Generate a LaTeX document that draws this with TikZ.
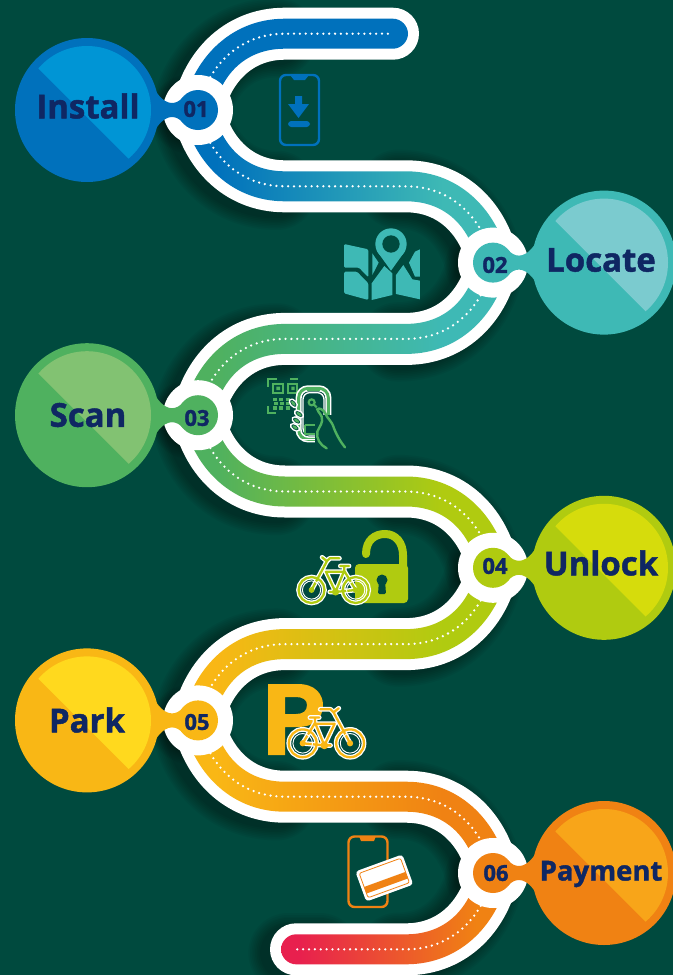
\documentclass[tikz,border=0pt]{standalone}
\usepackage{fontspec}
\newfontfamily\lab{Open Sans}[BoldFeatures={FakeBold=1.4}]
\definecolor{bg}{HTML}{004A3E}
\definecolor{ink}{HTML}{0F2763}
\definecolor{aD}{HTML}{0071BC}\definecolor{aL}{HTML}{0095D5}
\definecolor{bD}{HTML}{3EB9B5}\definecolor{bL}{HTML}{7BCBCF}
\definecolor{cD}{HTML}{4FB15F}\definecolor{cL}{HTML}{82C272}
\definecolor{dD}{HTML}{B0CB10}\definecolor{dL}{HTML}{D6DC0C}
\definecolor{eD}{HTML}{F9B715}\definecolor{eL}{HTML}{FFD91E}
\definecolor{fD}{HTML}{F08213}\definecolor{fL}{HTML}{F8A519}
\definecolor{redend}{HTML}{E8204E}
\newcommand\mkshade[3]{\pgfdeclarehorizontalshading{#1}{100bp}{color(0bp)=(#2); color(30bp)=(#2); color(65bp)=(#3); color(100bp)=(#3)}}
\mkshade{shA}{aD}{bD}
\mkshade{shB}{cD}{bD}
\mkshade{shC}{cD}{dD}
\mkshade{shD}{eD}{dD}
\mkshade{shE}{eD}{fD}
\pgfdeclarehorizontalshading{shF}{100bp}{color(0bp)=(redend); color(29bp)=(redend); color(68bp)=(fD); color(100bp)=(fD)}
\newcommand\segcenter{(0,0) .. controls (8,40) and (38,76.3) .. (87,76.3) -- (208,76.3) .. controls (257,76.3) and (287,112.6) .. (295,152.6)}
\newcommand\segband{(-15,3) .. controls (-6,48) and (30,91.3) .. (87,91.3) -- (208,91.3) .. controls (249,91.3) and (273,118.6) .. (280,155.6) -- (310,149.6) .. controls (301,104.6) and (265,61.3) .. (208,61.3) -- (87,61.3) .. controls (46,61.3) and (22,34) .. (15,-3) -- cycle}
\newcommand\bendA{(0,0) .. controls (8,40) and (38,76.3) .. (87,76.3)}
\newcommand\bendB{(0,0) .. controls (8,-40) and (38,-76.3) .. (87,-76.3)}
\newcommand\neckshape{(-41,-17) .. controls (-35,-9) and (-30,-7) .. (-26,-7) .. controls (-22,-7) and (-18,-9) .. (-15,-13) -- (-15,13) .. controls (-18,9) and (-22,7) .. (-26,7) .. controls (-30,7) and (-35,9) .. (-41,17) -- cycle}
\newcommand\bikeparts{
  (0,0) circle (13.5) (46,0) circle (13.5)
  (0,0) -- (12,-20) -- (21,2) -- (0,0)
  (7,-25) -- (16,-25) (12,-25) -- (12,-20)
  (12,-19) -- (31,-19) -- (21,2) -- (27,2)
  (46,0) -- (30,-30) -- (27,-33) -- (17,-33)
  (30,-30) -- (35,-34)}
\newcommand\bikeicon[5]{\begin{scope}[shift={(#1,#2)},xscale=#3,scale=#4]
  \draw[white,line width=3.6pt,line join=round,line cap=round] \bikeparts;
  \draw[#5,line width=1.7pt,line join=round,line cap=round] \bikeparts;
  \draw[white,line width=.7pt] (0,0) circle (9.5) (46,0) circle (9.5);
  \fill[#5] (0,0) circle (3) (46,0) circle (3) (21,2) circle (3.8);
\end{scope}}
\newcommand\stepcircle[7]{% name,x,y,disc x,dir,dark,light
  \node[bigdisc,fill=#6] (#1) at (#2,#3) {};
  \begin{scope}
    \clip (#2,#3) circle (64);
    \fill[#7] (#2,#3) ++(-100,-93) -- ++(200,200) -- ++(0,-207) -- ++(-200,0) -- cycle;
  \end{scope}
  \begin{scope}[shift={(#4,#3)},xscale=#5]
    \fill[#6] \neckshape;
  \end{scope}
  \node[smalldisc,fill=#6] (#1num) at (#4,#3) {};
}
\tikzset{
  bigdisc/.style={circle,minimum size=108pt,inner sep=0pt},
  smalldisc/.style={circle,minimum size=30pt,inner sep=0pt},
  ringdisc/.style={circle,fill=white,minimum size=52.5pt,inner sep=0pt},
  whiteband/.style={draw=white,line width=39pt,line cap=round},
  dotline/.style={draw=white,line width=1.9pt,line cap=round,dash pattern=on 0pt off 4.4pt},
  bigtext/.style={text=ink,font=\lab\bfseries\fontsize{24.7}{26}\selectfont,inner sep=0pt},
  numtext/.style={text=ink,font=\lab\bfseries\fontsize{16.5}{18}\selectfont,inner sep=0pt},
}
\begin{document}
\begin{tikzpicture}[x=0.75pt,y=-0.75pt]
\path[use as bounding box,clip] (0,0) rectangle (673,975);
\fill[bg] (0,0) rectangle (673,975);
% soft shadows
\foreach \w in {42,44.5,...,60}{
  \begin{scope}[black,opacity=.045,line width=\w pt,line cap=round]
    \foreach \ny in {110,415.2,720.4}{
      \begin{scope}[shift={(190,\ny+4)}]
        \draw \bendA; \draw \bendB;
      \end{scope}}
    \foreach \ny in {262.6,567.8,873}{
      \begin{scope}[shift={(485,\ny+3)},xscale=-1]
        \draw \bendA; \draw \bendB;
      \end{scope}}
    \draw (288,953) -- (320,953);
  \end{scope}
}
% white road
\foreach \ox/\oy/\sx in {198/110/1,493/262.6/-1,198/415.2/1,493/567.8/-1,198/720.4/1}{
  \begin{scope}[shift={(\ox,\oy)},xscale=\sx]\path[whiteband] \segcenter;\end{scope}}
\begin{scope}[shift={(198,110)}]\path[whiteband] \bendB -- (195,-76.3);\end{scope}
\begin{scope}[shift={(493,873)},xscale=-1]\path[whiteband] \bendA -- (197,76.3);\end{scope}
% coloured road
\foreach \ox/\oy/\sx/\sh in {198/110/1/shA,493/262.6/-1/shB,198/415.2/1/shC,493/567.8/-1/shD,198/720.4/1/shE}{
  \begin{scope}[shift={(\ox,\oy)},xscale=\sx]\shade[shading=\sh] \segband;\end{scope}}
\begin{scope}[shift={(198,110)}]
  \fill[aD] (-15,-3) .. controls (-6,-48) and (30,-91.3) .. (87,-91.3) -- (195,-91.3) .. controls (203,-91.3) and (210,-84.3) .. (210,-76.3) .. controls (210,-68.3) and (203,-61.3) .. (195,-61.3) -- (87,-61.3) .. controls (46,-61.3) and (22,-34) .. (15,3) -- cycle;
\end{scope}
\shade[shading=shF] (508,876) .. controls (499,921) and (463,964.3) .. (406,964.3) -- (296,964.3) .. controls (288,964.3) and (281,957.3) .. (281,949.3) .. controls (281,941.3) and (288,934.3) .. (296,934.3) -- (406,934.3) .. controls (447,934.3) and (471,907) .. (478,870) -- cycle;
% dots
\foreach \ox/\oy/\sx in {198/110/1,493/262.6/-1,198/415.2/1,493/567.8/-1,198/720.4/1}{
  \begin{scope}[shift={(\ox,\oy)},xscale=\sx]\path[dotline] \segcenter;\end{scope}}
\begin{scope}[shift={(198,110)}]\path[dotline] \bendB -- (195,-76.3);\end{scope}
\begin{scope}[shift={(493,873)},xscale=-1]\path[dotline] \bendA -- (197,76.3);\end{scope}
% rings
\node[ringdisc] (r1) at (198,110) {};
\node[ringdisc] (r2) at (493,262.6) {};
\node[ringdisc] (r3) at (198,415.2) {};
\node[ringdisc] (r4) at (493,567.8) {};
\node[ringdisc] (r5) at (198,720.4) {};
\node[ringdisc] (r6) at (493,873) {};
% circles
\stepcircle{install}{87}{110}{198}{1}{aD}{aL}
\stepcircle{locate}{604}{262.6}{493}{-1}{bD}{bL}
\stepcircle{scan}{87}{415.2}{198}{1}{cD}{cL}
\stepcircle{unlock}{604}{567.8}{493}{-1}{dD}{dL}
\stepcircle{park}{87}{720.4}{198}{1}{eD}{eL}
\stepcircle{payment}{604}{873}{493}{-1}{fD}{fL}
% labels
\node[bigtext] (t1) at (88,106) {Install};
\node[bigtext] (t2) at (601,260) {Locate};
\node[bigtext] (t3) at (88,415) {Scan};
\node[bigtext] (t4) at (601,563) {Unlock};
\node[bigtext] (t5) at (87,720) {Park};
\node[bigtext,font=\lab\bfseries\fontsize{20.6}{22}\selectfont] (t6) at (601,874) {Payment};
\node[numtext] (n1) at (196,109) {01};
\node[numtext] (n2) at (495,265) {02};
\node[numtext] (n3) at (197,418) {03};
\node[numtext] (n4) at (495,566) {04};
\node[numtext] (n5) at (197,722) {05};
\node[numtext] (n6) at (496,873) {06};
% icon 1 phone download
\draw[aD,line width=1.8pt,rounded corners=4.5pt] (280,75) rectangle (319,145);
\fill[aD] (290,75) -- (309,75) -- (305,80) -- (294,80) -- cycle;
\fill[aD] (295,96) -- (302,96) -- (302,104) -- (309,104) -- (298.5,118) -- (288,104) -- (295,104) -- cycle;
\fill[aD,rounded corners=2.5pt] (288,121) rectangle (310,127);
% icon 2 map
\begin{scope}[shift={(335,220)},scale=0.3333,bD]
  \fill[rounded corners=1pt] (27,72) -- (100,88) -- (100,172) -- (72,143) -- (27,143) -- cycle;
  \fill[rounded corners=1pt] (27,155) -- (66,155) -- (100,190) -- (100,240) -- (27,220) -- cycle;
  \fill (112,100) -- (131,128) -- (112,165) -- cycle;
  \fill (110,190) -- (148,138) -- (172,160) -- (172,225) -- (110,240) -- cycle;
  \fill (183,165) -- (205,135) -- (232,178) -- (255,182) -- (255,238) -- (183,222) -- cycle;
  \fill (222,128) -- (240,95) -- (255,88) -- (255,170) -- (240,170) -- cycle;
  \fill (168,152) -- (125,92) -- (211,92) -- cycle;
  \fill (168,72) circle (47);
  \fill[bg] (168,72) circle (26);
\end{scope}
% icon 3 qr and hand
\begin{scope}[shift={(260,370)},scale=0.3333]
  \begin{scope}[cD,line width=1.7pt]
    \draw (25,50) -- (25,28) -- (50,28);
    \draw (90,28) -- (115,28);
    \draw (25,108) -- (25,130) -- (48,130);
    \draw (40,42) rectangle (68,68);
    \draw (85,42) rectangle (112,68);
    \fill (49,50) rectangle (60,60) (94,50) rectangle (104,60);
    \draw[line width=2.6pt,dash pattern=on 3pt off 1.6pt] (40,88) -- (92,88) (42,101) -- (90,101) (40,114) -- (92,114);
  \end{scope}
  \draw[white,line width=4.6pt,rounded corners=7pt] (116,55) rectangle (205,208);
  \draw[cD,line width=2.2pt,rounded corners=7pt] (116,55) rectangle (205,208);
  \draw[white,line width=1pt,rounded corners=5pt] (129,68) rectangle (192,195);
  \fill[bg] (165,135) rectangle (215,240);
  \draw[white,line width=1pt] (125,208) -- (165,208);
  \draw[cD,line width=1.6pt] (155,97) circle (9) (162,104) -- (170,112);
  \draw[cD,line width=1.6pt] (135,165) -- (165,165) (135,165) -- (135,193) -- (165,193);
  \fill[cD] (140,58) rectangle (180,64);
  \foreach \fx/\fy/\fa in {100/100/-50,117/132/-35,110/152/-35,105/172/-35}{
    \fill[bg,draw=white,line width=1pt,rotate around={\fa:(\fx,\fy)}] (\fx,\fy) ellipse (15 and 9);
    \fill[cD,rotate around={\fa:(\fx,\fy)}] (\fx,\fy) ellipse (9 and 4);
  }
  \draw[cD,line width=1.8pt,line cap=round] (200,235) .. controls (180,225) and (168,205) .. (172,185) .. controls (180,165) and (190,160) .. (185,140) .. controls (178,125) and (172,125) .. (172,118) .. controls (176,112) and (190,118) .. (196,130) .. controls (200,145) and (215,150) .. (222,175) .. controls (232,200) and (245,220) .. (255,232);
\end{scope}
% icon 4 lock and bike
\fill[dD,rounded corners=3pt] (355,564) rectangle (408,603);
\draw[dD,line width=6pt,line cap=round] (366,554) .. controls (366,540) and (375,534) .. (385,534) .. controls (396,534) and (403,543) .. (403,555) -- (403,566);
\fill[bg] (382,580) circle (5.5);
\fill[bg,rounded corners=1pt] (379,580) -- (385,580) -- (386,594) -- (378,594) -- cycle;
\bikeicon{355.7}{590}{-1}{.96}{dD}
% icon 5 P and bike
\fill[eD,even odd rule] (268,684) -- (298,684) .. controls (316,684) and (323,695) .. (323,705) .. controls (323,720) and (312,727) .. (298,727) -- (285,727) -- (285,755) -- (268,755) -- cycle
  (285,697) -- (285,714) -- (296,714) .. controls (303,714) and (307,711) .. (307,705) .. controls (307,700) and (303,697) .. (296,697) -- cycle;
\bikeicon{302.7}{743.3}{1}{1.03}{eD}
% icon 6 phone and card
\draw[fD,line width=1.8pt,rounded corners=4.5pt] (348.5,836.5) rectangle (387.5,907);
\fill[fD] (359,836) -- (376,836) -- (374,841) -- (361,841) -- cycle;
\begin{scope}[shift={(384.3,878)},rotate=20]
  \fill[white,rounded corners=2.5pt] (-25,-16) rectangle (25,16);
  \draw[fD,line width=.6pt,rounded corners=1.5pt] (-22,-13) rectangle (22,13);
  \fill[fD] (-22,1.5) rectangle (22,8.5);
\end{scope}
\end{tikzpicture}
\end{document}
